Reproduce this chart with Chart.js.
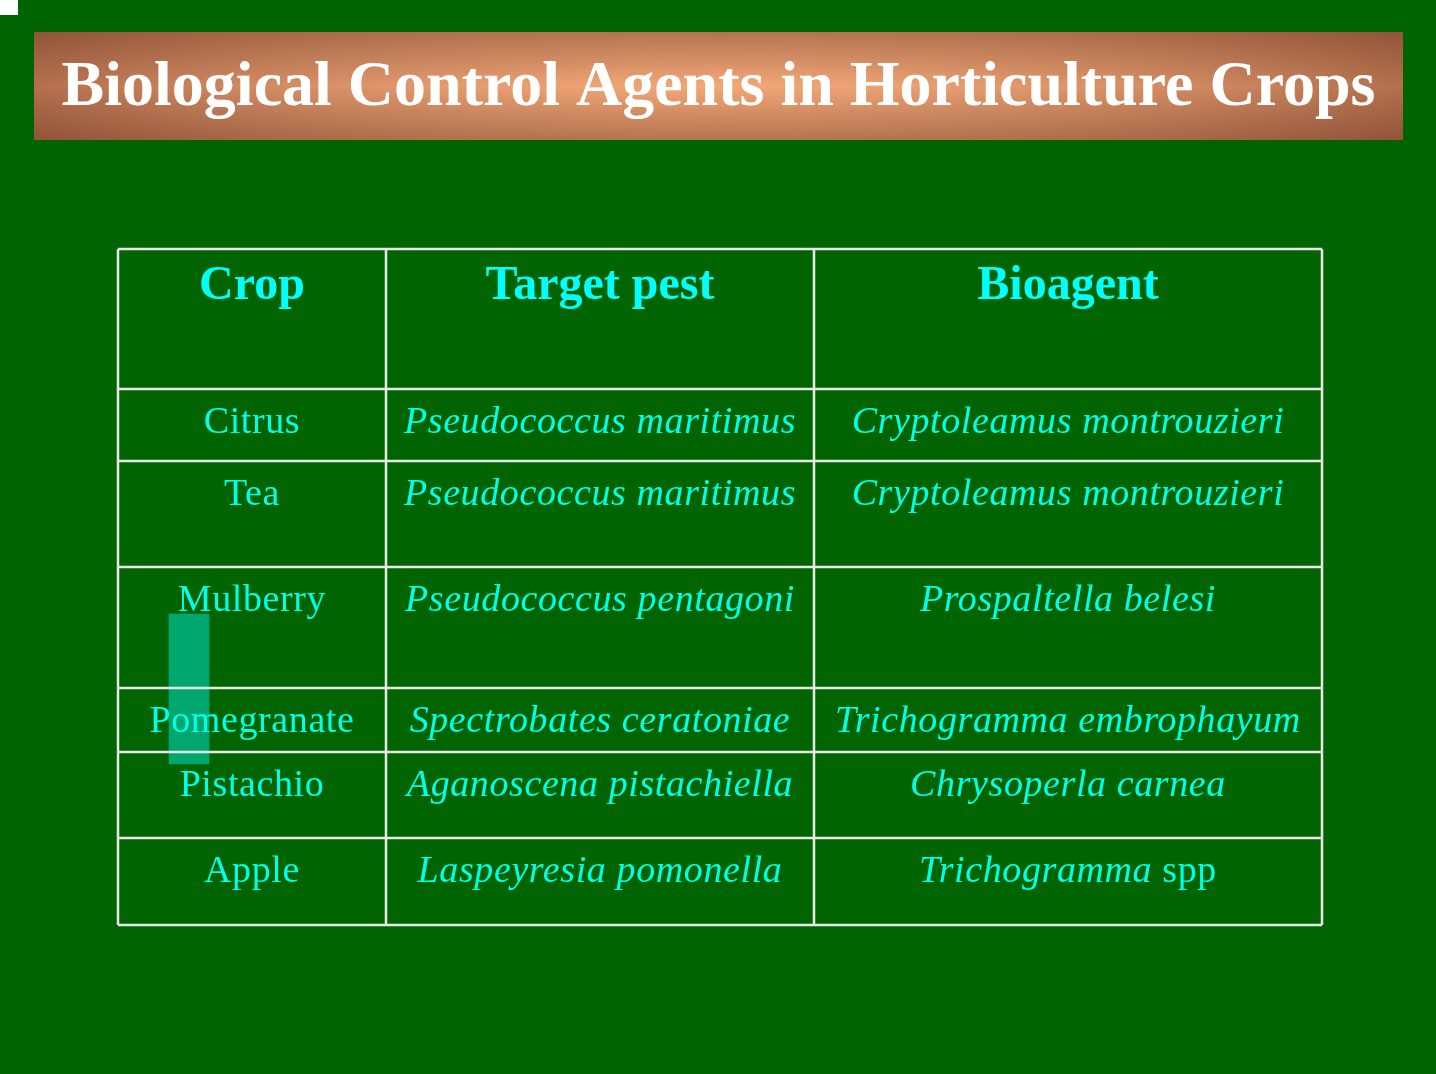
<!DOCTYPE html>
<html>
<head>
<meta charset="utf-8">
<script src="https://cdn.jsdelivr.net/npm/chart.js@4"></script>
<style>
  html, body { margin: 0; padding: 0; background: #006400; overflow: hidden; }
  canvas { display: block; }
</style>
</head>
<body>
<canvas id="slide" width="1436" height="1074"></canvas>
<script>
// Table content
const title = 'Biological Control Agents in Horticulture Crops';
const headers = ['Crop', 'Target pest', 'Bioagent'];
const crops = ['Citrus', 'Tea', 'Mulberry', 'Pomegranate', 'Pistachio', 'Apple'];
const pests = ['Pseudococcus maritimus', 'Pseudococcus maritimus', 'Pseudococcus pentagoni',
  'Spectrobates ceratoniae', 'Aganoscena pistachiella', 'Laspeyresia pomonella'];
const agents = ['Cryptoleamus montrouzieri', 'Cryptoleamus montrouzieri', 'Prospaltella belesi',
  'Trichogramma embrophayum', 'Chrysoperla carnea', 'Trichogramma|spp'];

// Layout (page pixels, used through the chart's scales)
const colEdges = [118, 386, 814, 1322];
const rowEdges = [249, 389, 461, 567, 688, 752, 838, 925];

const slidePlugin = {
  id: 'slide',
  beforeDraw(chart) {
    const { ctx } = chart;
    const sx = chart.scales.x, sy = chart.scales.y;
    ctx.save();
    ctx.fillStyle = '#006400';
    ctx.fillRect(0, 0, chart.width, chart.height);
    ctx.fillStyle = '#ffffff';
    ctx.fillRect(0, 0, 18, 15);

    // Title banner
    const bx0 = sx.getPixelForValue(34), bx1 = sx.getPixelForValue(1403);
    const by0 = sy.getPixelForValue(32), by1 = sy.getPixelForValue(140);
    const cx = (bx0 + bx1) / 2, cy = (by0 + by1) / 2;
    const lg = ctx.createLinearGradient(0, by0, 0, by1);
    lg.addColorStop(0, '#9a5a3c');
    lg.addColorStop(0.5, '#f0a070');
    lg.addColorStop(1, '#9a5a3c');
    ctx.fillStyle = lg;
    ctx.fillRect(bx0, by0, bx1 - bx0, by1 - by0);
    const hg = ctx.createLinearGradient(bx0, 0, bx1, 0);
    hg.addColorStop(0, 'rgba(140,80,55,0.6)');
    hg.addColorStop(0.5, 'rgba(255,190,140,0.25)');
    hg.addColorStop(1, 'rgba(140,80,55,0.6)');
    ctx.fillStyle = hg;
    ctx.fillRect(bx0, by0, bx1 - bx0, by1 - by0);
    ctx.fillStyle = '#ffffff';
    ctx.font = 'bold 64px "Liberation Serif", serif';
    ctx.textAlign = 'center';
    ctx.textBaseline = 'middle';
    ctx.fillText(title, cx, cy + 2);
    ctx.restore();
  },
  afterDraw(chart) {
    const { ctx } = chart;
    const sx = chart.scales.x, sy = chart.scales.y;
    ctx.save();
    // Grid
    ctx.strokeStyle = '#e8e8e8';
    ctx.lineWidth = 2.5;
    const x0 = sx.getPixelForValue(colEdges[0]), x1 = sx.getPixelForValue(colEdges[colEdges.length - 1]);
    const y0 = sy.getPixelForValue(rowEdges[0]), y1 = sy.getPixelForValue(rowEdges[rowEdges.length - 1]);
    rowEdges.forEach(r => {
      const y = sy.getPixelForValue(r);
      ctx.beginPath(); ctx.moveTo(x0, y); ctx.lineTo(x1, y); ctx.stroke();
    });
    colEdges.forEach(c => {
      const x = sx.getPixelForValue(c);
      ctx.beginPath(); ctx.moveTo(x, y0); ctx.lineTo(x, y1); ctx.stroke();
    });

    const colMid = i => (sx.getPixelForValue(colEdges[i]) + sx.getPixelForValue(colEdges[i + 1])) / 2;
    ctx.textAlign = 'center';
    ctx.textBaseline = 'middle';

    // Header
    ctx.fillStyle = '#00ffff';
    ctx.font = 'bold 48px "Liberation Serif", serif';
    headers.forEach((h, i) => ctx.fillText(h, colMid(i), sy.getPixelForValue(rowEdges[0] + 38)));

    // Body
    ctx.fillStyle = '#00ffe8';
    ctx.letterSpacing = '0.6px';
    const upright = '38px "Liberation Serif", serif';
    const italic = 'italic 38px "Liberation Serif", serif';
    crops.forEach((crop, r) => {
      const y = sy.getPixelForValue(rowEdges[r + 1] + 34);
      ctx.font = upright;
      ctx.fillText(crop, colMid(0), y);
      ctx.font = italic;
      ctx.fillText(pests[r], colMid(1), y);
      const parts = agents[r].split('|');
      if (parts.length === 1) {
        ctx.fillText(parts[0], colMid(2), y);
      } else {
        ctx.font = italic;
        const w1 = ctx.measureText(parts[0] + ' ').width;
        ctx.font = upright;
        const w2 = ctx.measureText(parts[1]).width;
        const start = colMid(2) - (w1 + w2) / 2;
        ctx.textAlign = 'left';
        ctx.font = italic;
        ctx.fillText(parts[0] + ' ', start, y);
        ctx.font = upright;
        ctx.fillText(parts[1], start + w1, y);
        ctx.textAlign = 'center';
      }
    });
    ctx.restore();
  }
};

// The stray highlight block on the slide, drawn as a floating bar
const markerX = [189];
const markerSpan = [[614, 764]];

new Chart(document.getElementById('slide'), {
  type: 'bar',
  data: {
    datasets: [{
      data: markerX.map((x, i) => ({ x, y: markerSpan[i] })),
      backgroundColor: 'rgba(0,185,140,0.8)',
      borderWidth: 0,
      barThickness: 40
    }]
  },
  options: {
    responsive: false,
    animation: false,
    devicePixelRatio: 1,
    layout: { padding: 0 },
    plugins: { legend: { display: false }, tooltip: { enabled: false } },
    scales: {
      x: { type: 'linear', min: 0, max: 1436, offset: false, display: false },
      y: { type: 'linear', min: 0, max: 1074, reverse: true, display: false }
    }
  },
  plugins: [slidePlugin]
});
</script>
</body>
</html>
